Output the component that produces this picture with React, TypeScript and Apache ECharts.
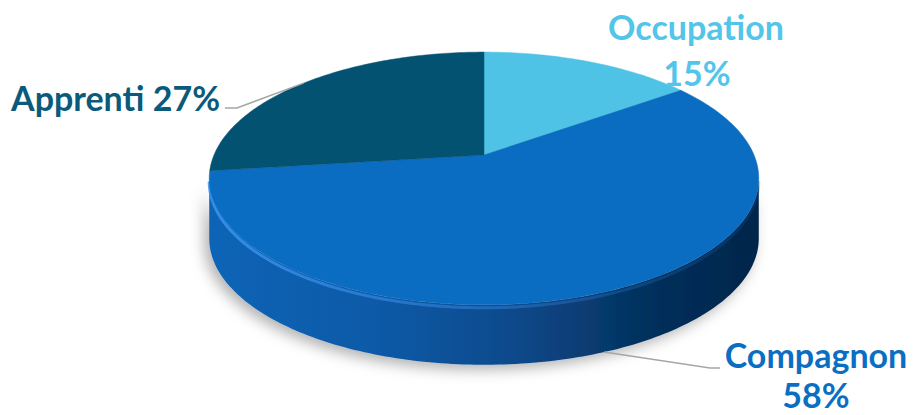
import React, { useEffect, useRef } from "react";
import * as echarts from "echarts";

// ---- data ----
const categories = ["Occupation", "Compagnon", "Apprenti"];
const values = [15, 58, 27];
const percentLabels = ["15%", "58%", "27%"];

// ---- styling / layout (not data) ----
const topColors = ["#4fc3e6", "#0b6dc1", "#045272"];
const textColors = ["#52c5e9", "#0a6fc3", "#0a5a7c"];
const CX = 484;
const CY = 155;
const RX = 270;
const RY = 122;
const D = 5.39; // perspective factor
const H = 60; // thickness
const FONT = "Lato, 'Open Sans', sans-serif";
const FS = 34;

function proj(theta: number, drop = 0): [number, number] {
  const u = Math.sin(theta);
  const v = -Math.cos(theta);
  const k = D / (D - v);
  return [CX + RX * u * k, CY + RY * v * k + drop];
}

const TA = Math.acos(-1 / D);
const TB = 2 * Math.PI - TA;

function arcPoints(t1: number, t2: number, drop = 0): [number, number][] {
  const pts: [number, number][] = [];
  const n = Math.max(2, Math.ceil(((t2 - t1) / Math.PI) * 180));
  for (let s = 0; s <= n; s++) {
    pts.push(proj(t1 + ((t2 - t1) * s) / n, drop));
  }
  return pts;
}

export default function App() {
  const ref = useRef<HTMLDivElement>(null);
  useEffect(() => {
    document.body.style.margin = "0";
    const chart = echarts.init(ref.current!, null, { renderer: "svg" });
    const total = values.reduce((a, b) => a + b, 0);

    const renderItem = (params: any, api: any) => {
      const i = params.dataIndex;
      let start = 0;
      for (let j = 0; j < i; j++) start += values[j];
      const val = api.value(0);
      const t1 = (start / total) * 2 * Math.PI;
      const t2 = ((start + val) / total) * 2 * Math.PI;
      const mid = (t1 + t2) / 2;
      const children: any[] = [];

      // side wall (front-facing part only)
      const a = Math.max(t1, TA);
      const b = Math.min(t2, TB);
      if (b > a) {
        const top = arcPoints(a, b, 0);
        const bottom = arcPoints(a, b, H).reverse();
        children.push({
          type: "polygon",
          shape: { points: top.concat(bottom) },
          style: {
            fill: new echarts.graphic.LinearGradient(0, 0, 1, 0, [
              { offset: 0, color: "#0c64b6" },
              { offset: 0.3, color: "#0a5aa8" },
              { offset: 0.55, color: "#0a4a8c" },
              { offset: 0.8, color: "#05305c" },
              { offset: 1, color: "#03264a" },
            ]),
            shadowColor: "rgba(0,0,0,0.3)",
            shadowBlur: 14,
            shadowOffsetX: -5,
            shadowOffsetY: 5,
          },
        });
        children.push({
          type: "polyline",
          shape: { points: arcPoints(a, b, 3) },
          style: {
            fill: "none",
            lineWidth: 3,
            stroke: new echarts.graphic.LinearGradient(0, 0, 1, 0, [
              { offset: 0, color: "rgba(60,150,240,0.85)" },
              { offset: 0.5, color: "rgba(45,125,215,0.6)" },
              { offset: 1, color: "rgba(20,80,150,0.25)" },
            ]),
          },
        });
      }

      // top face
      const pts = [[CX, CY] as [number, number]].concat(arcPoints(t1, t2, 0));
      children.push({
        type: "polygon",
        shape: { points: pts },
        style: { fill: topColors[i], stroke: topColors[i], lineWidth: 0.5 },
      });

      // labels
      const txt = (text: string, x: number, y: number, align: string) => ({
        type: "text",
        style: {
          text,
          x,
          y,
          align,
          verticalAlign: "middle",
          fill: textColors[i],
          fontSize: FS,
          fontWeight: "bold",
          fontFamily: FONT,
          lineHeight: 26,
        },
      });
      if (i === 0) {
        children.push(txt(categories[i], 696, 26, "center"));
        children.push(txt(percentLabels[i], 697, 72, "center"));
      } else if (i === 1) {
        const p = proj(mid, H);
        children.push({
          type: "polyline",
          shape: { points: [p, [710, 368], [720, 368]] },
          style: { fill: "none", stroke: "#a6a6a6", lineWidth: 1.5 },
        });
        children.push(txt(categories[i], 816, 354, "center"));
        children.push(txt(percentLabels[i], 816, 394, "center"));
      } else {
        const p = proj(mid, 0);
        children.push({
          type: "polyline",
          shape: { points: [p, [237, 108], [225, 108]] },
          style: { fill: "none", stroke: "#a6a6a6", lineWidth: 1.5 },
        });
        children.push(
          txt(categories[i] + " " + percentLabels[i], 220, 97, "right")
        );
      }
      return { type: "group", children };
    };

    chart.setOption({
      animation: false,
      series: [
        {
          type: "custom",
          coordinateSystem: "none",
          data: values.map((v, i) => ({ name: categories[i], value: [v] })),
          renderItem,
        },
      ],
    });
    return () => chart.dispose();
  }, []);
  return <div ref={ref} style={{ width: 914, height: 415 }} />;
}
